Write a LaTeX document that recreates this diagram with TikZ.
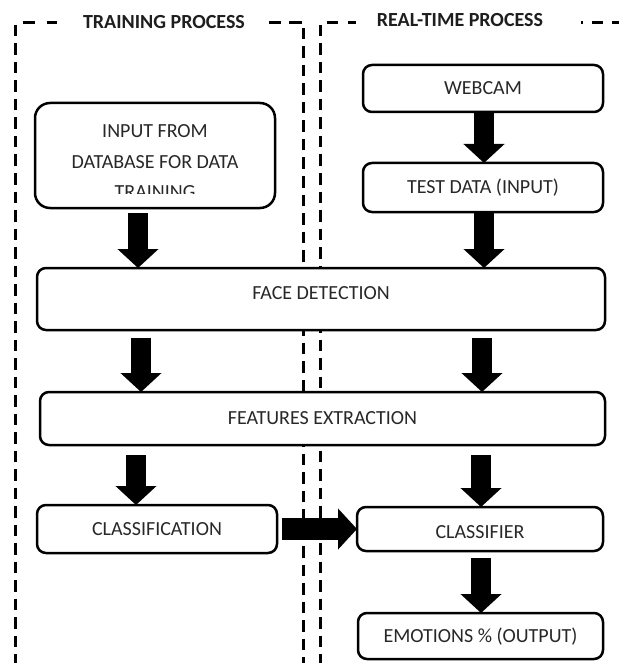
\documentclass[tikz,border=0pt]{standalone}
\usepackage{fontspec}
\setmainfont{Carlito}
\usetikzlibrary{arrows.meta}
\definecolor{txtgray}{HTML}{282828}
\definecolor{ttlgray}{HTML}{1E1E1E}
\begin{document}
\begin{tikzpicture}[x=1pt,y=-1pt,
  box/.style={draw=black, line width=2.5pt, rounded corners=9pt, fill=white,
    inner sep=0pt, outer sep=0pt, text=txtgray, font=\fontsize{20}{24}\selectfont,
    text height=12.9pt, text depth=0pt, align=center},
  txt/.style={text=txtgray, font=\fontsize{20}{24}\selectfont, inner sep=0pt, anchor=base},
  ttl/.style={text=ttlgray, font=\fontsize{20}{24}\selectfont\bfseries, inner sep=0pt, anchor=base},
  barrow/.style={line width=20pt, -{Triangle[width=40pt,length=19pt]}, black},
  vdash/.style={line width=3pt, dash pattern=on 11.5pt off 7pt},
  hdash/.style={line width=3pt}]
\useasboundingbox (0,0) rectangle (618,663);
\fill[white] (0,0) rectangle (618,663);

% dashed frames
\draw[vdash] (15,25) -- (15,670);
\draw[vdash] (303,28) -- (303,670);
\draw[vdash] (320,25) -- (320,670);
\draw[hdash] (23,23) -- (35,23);
\draw[hdash] (47,23) -- (57,23);
\draw[hdash] (269,23) -- (281,23);
\draw[hdash] (289,23) -- (302,23);
\draw[hdash] (327,23) -- (338,23);
\draw[hdash] (348,23) -- (356,23);
\draw[hdash] (581,23) -- (583,23);
\draw[hdash] (592,23) -- (603,23);
\draw[hdash] (612,23) -- (622,23);

% titles
\node[ttl] (t1) at (164,28.4) {TRAINING PROCESS};
\node[ttl] (t2) at (460,26.4) {REAL-TIME PROCESS};

% boxes
\node[box, rounded corners=15pt, minimum width=240pt, minimum height=105pt] (inp) at (155,155.5) {};
\begin{scope}
  \clip (40,108) rectangle (270,193);
  \node[txt] (inl1) at (155,138) {INPUT FROM};
  \node[txt] (inl2) at (155,168) {DATABASE FOR DATA};
  \node[txt] (inl3) at (155,198) {TRAINING};
\end{scope}
\node[box, minimum width=240pt, minimum height=47pt] (web) at (483,88.5) {WEBCAM};
\node[box, minimum width=240pt, minimum height=49pt] (test) at (483,187.5) {TEST DATA (INPUT)};
\node[box, minimum width=568pt, minimum height=62pt, text depth=12pt] (face) at (321,299) {FACE DETECTION};
\node[box, minimum width=565pt, minimum height=53pt] (feat) at (322.5,418.5) {FEATURES EXTRACTION};
\node[box, minimum width=240pt, minimum height=48pt] (cls) at (157,529) {CLASSIFICATION};
\node[box, minimum width=246pt, minimum height=44pt, text height=18.9pt] (clsr) at (480,529) {CLASSIFIER};
\node[box, minimum width=245pt, minimum height=46pt] (emo) at (480.5,636) {EMOTIONS \% (OUTPUT)};

% arrow columns
\coordinate (a1) at (138,0);
\coordinate (a2) at (484,0);
\coordinate (a3) at (141,0);
\coordinate (a4) at (482,0);
\coordinate (a5) at (136,0);
\coordinate (a6) at (481,0);

\draw[barrow, shorten <=5pt] (inp.south -| a1) -- (face.north -| a1);
\draw[barrow, shorten <=1pt] (web.south -| a2) -- (test.north -| a2);
\draw[barrow, shorten <=1pt] (test.south -| a2) -- (face.north -| a2);
\draw[barrow, shorten <=8pt] (face.south -| a3) -- (feat.north -| a3);
\draw[barrow, shorten <=8pt] (face.south -| a4) -- (feat.north -| a4);
\draw[barrow, shorten <=10pt] (feat.south -| a5) -- (cls.north -| a5);
\draw[barrow, shorten <=10pt] (feat.south -| a6) -- (clsr.north -| a6);
\draw[barrow, line width=22pt, shorten <=5pt] (cls.east) -- (clsr.west);
\draw[barrow, shorten <=7pt] (clsr.south -| a6) -- (emo.north -| a6);
\end{tikzpicture}
\end{document}
